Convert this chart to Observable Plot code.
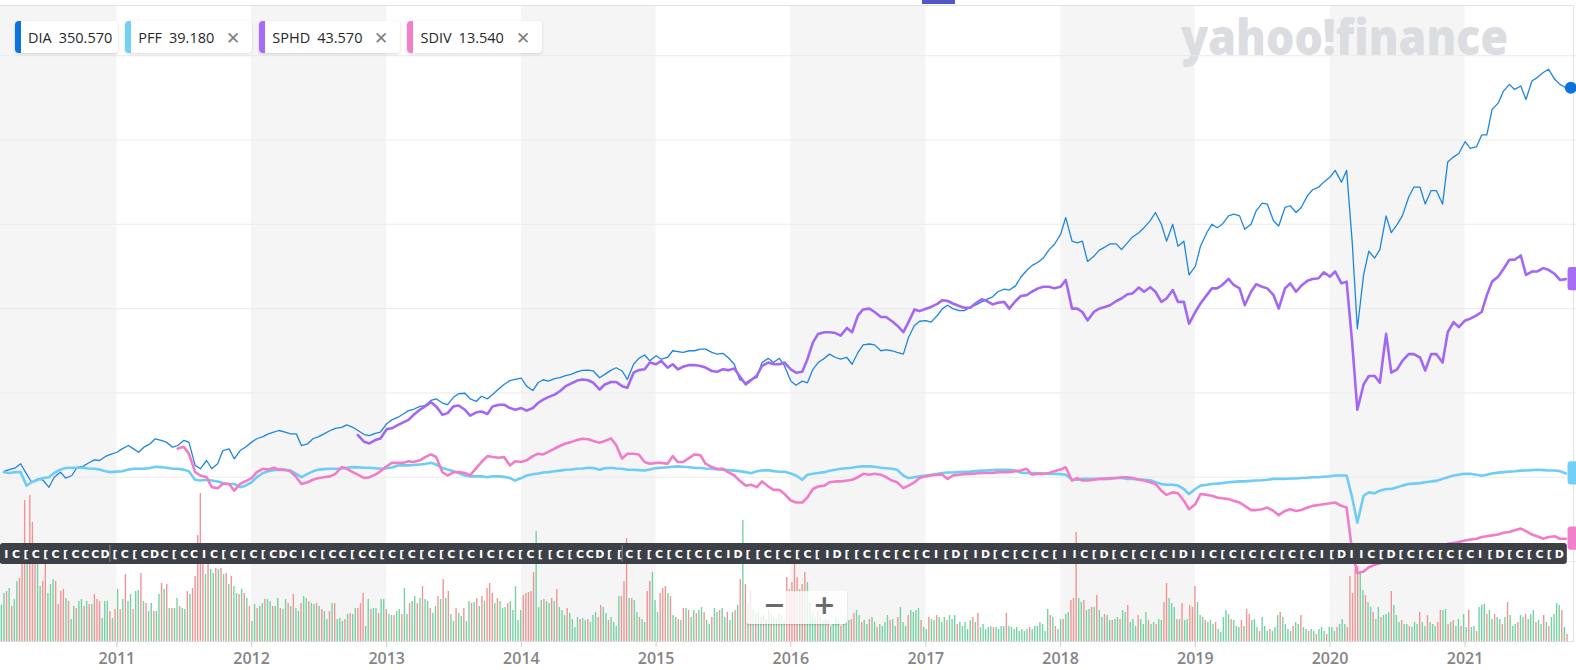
<!DOCTYPE html>
<html><head><meta charset="utf-8">
<script src="https://cdn.jsdelivr.net/npm/d3@7"></script>
<script src="https://cdn.jsdelivr.net/npm/@observablehq/plot@0.6"></script>
<style>
html,body{margin:0;padding:0;background:#fff;}
#chart{position:relative;width:1576px;height:670px;overflow:hidden;font-family:"Open Sans",sans-serif;}
#chart > svg{position:absolute;left:0;top:0;}
#chart > svg.strip{top:543px;}
.legend{position:absolute;left:15px;top:21px;display:flex;gap:7px;}
.chip{position:relative;height:32px;background:#fff;border-radius:4px;box-shadow:0 1px 3px rgba(0,0,0,.16);display:flex;align-items:center;padding:0 6px 0 13px;font-size:14.5px;color:#26282a;white-space:nowrap;box-sizing:border-box;}
.chip::before{content:"";position:absolute;left:0;top:0;bottom:0;width:6px;border-radius:4px 0 0 4px;background:var(--c);}
.chip .sym{margin-right:7px}
.chip .x{margin-left:12px;margin-right:6px;color:#7c7f83;font-size:17px;line-height:1}
.zoombox{position:absolute;left:746px;top:591px;width:101px;height:33px;background:rgba(255,255,255,.78);border-radius:3px;box-shadow:0 1px 2px rgba(0,0,0,.18);}
.zoombox span{position:absolute;top:-2px;font:bold 27px "DejaVu Sans",sans-serif;color:#6a6a6a;}
.topmark{position:absolute;left:922px;top:0;width:33px;height:4px;background:#5457c6;}
</style></head>
<body><div id="chart"></div>
<script>
// ---------- legend data ----------
const tickers = ["DIA", "PFF", "SPHD", "SDIV"];
const lastPrices = [350.570, 39.180, 43.570, 13.540];
const lineColors = ["#1f86de", "#6fcdf5", "#a368f3", "#f17cc8"];
const chipColors = ["#0b74dc", "#72cff7", "#a66cf5", "#f27fca"];
const removable = [false, true, true, true];

// ---------- x axis ----------
const tickYears = [2011, 2012, 2013, 2014, 2015, 2016, 2017, 2018, 2019, 2020, 2021];
const shadedYears = [2010, 2012, 2014, 2016, 2018, 2020];

// ---------- % change series, semi-monthly (1st and 15th) ----------
// DIA and PFF from 2010-03-01, SDIV from 2011-06-15, SPHD from 2012-10-15
const diaPct = [
 3.5,4.5,5.6,8,2,-3,-1,-1.8,-6,0,3,-0.5,1,5.8,6.4,8.3,10.3,9.9,12.3,13.5,
 14.8,16.8,18.8,16.8,14.8,17.8,19.8,22.8,21.9,20.8,17.8,18.8,21.8,20.8,7,5,9.9,5,8,15.8,16.8,10.9,15.8,17.8,
 20.8,22.8,24.1,25.7,26.7,27.7,26.7,25.7,25.7,18.8,19.8,22.8,24.1,25.7,27.7,29,29.6,31,29.6,27.7,25.3,24.7,26,26.7,
 31.7,34,35.6,37.5,39.5,40.3,42,42.5,45.5,46.5,44,43,47.4,49.5,49.8,46.5,45,48,46.5,49,52.4,55,57.3,58,
 58.7,54,51.4,56,57.8,57,58.5,59,60.3,61,62.5,63.3,63.5,63,59,61,63.5,64.9,63,58,67,70.5,72.5,69,
 72,70,71,75,74.5,74,75,75,76,76,74,73,73.5,71,67,58,56,58,59,68,70.5,68,70.5,66,
 57,54.5,57,56,64,68,70.5,73,71,70,71,67,74,78.5,79,78.5,75,75.5,75,74,73,83,90,92.5,
 92.9,92,95.9,100,102,100,98.8,98.8,100.8,102,104,105.5,107,110,111.5,111,113.5,118.6,122.6,125.5,127.5,130,135,138,
 144,154,140,139,140,128,131,134.5,136.5,138.4,138.4,135,139,142.5,145,148,152.2,157,150,140,150,137,140,120,
 125,137,145,150,148,150,155,156,155,147,150,158,162.5,162,152,149,160,161,157,160,167,170.5,172,175,
 178,182,175,182,140,88,120,134,130,135,155,145,150,155,166,172,172,162,170,170,162,187,190,192,
 199,195,196,203,203,218,222,229,233,230,232,224,235,237,240,242,236,233,231
];
const pffPct = [
 3,2.5,3,3,-5,-3,-1.5,-0.5,0,2.5,4.5,5.5,5.6,5.6,5.6,5.2,5,4.5,3.5,3,
 3.3,3.5,4.5,5,5,5,5.5,6.2,6,5.6,5,5,4.5,3.5,-1.5,-2,-1.5,-2,-2.5,-3.5,-4,-4,-5.9,-5,
 -3,0,2.5,3.5,4.2,4.4,4.2,4,2,0,2,3.5,4.5,4.8,5,5,5.2,5.6,6,5.8,5.6,5.6,5.3,5,
 5.3,5.8,7,7,7,7.2,7.5,7.8,8.6,7.5,5.5,4.5,3.5,2.5,1,0.5,0.5,0.5,0,0.5,0.5,0.2,-0.5,-2,
 -0.5,1,1.8,2.2,2.8,3,3.5,3.9,4.4,4.6,5,5.2,5.6,5.4,4.4,5.3,5.6,5.2,5,4.4,4.4,4.2,4,4.6,
 5.4,5.6,5.9,6.2,6.4,6.2,5.9,5.6,5.5,5.2,5,4.6,4.4,4.2,3.9,3.6,3,2.4,3.5,4,4.2,3.6,3.2,3.2,
 2.2,1,-1.5,1.5,2,2.5,3,3.8,4.4,5,5.3,5.6,6.2,6.4,6.4,6.2,5.6,5.3,5,4.4,1,-0.5,0,0.5,
 1,1.5,2,2.5,2.8,2.8,3,3.2,3.3,3.6,3.9,4,4.2,4.4,4.4,4.4,4,2.6,2.5,2.4,2.3,2.2,2,2,
 1.8,1.5,-1.5,-1.5,-1,-1,-1,-1,-1,-1,-0.5,-0.5,-1,-1,-1.2,-1.5,-1.8,-3,-4,-4.5,-4.5,-5,-7,-10,
 -7,-5,-4.5,-4,-3.8,-3.5,-3,-2.8,-2.5,-2.5,-2.2,-2,-1.8,-1.5,-1,-1,-1,-0.8,-0.8,-0.5,-0.3,0,0,0.3,
 0.6,1,1,1,-12,-27,-11,-9,-9.5,-8,-7,-7,-6,-5,-4,-3.8,-3.5,-3,-2.5,-2.2,-1,0,1,1.5,
 2,2,1.5,0.8,1.5,2.2,2.7,3,3.3,3.5,3.9,4,4.2,4.4,4.2,4,4,3.6,2.2
];
const sphdPct = [
 25,21,20,22,23,
 28.5,29,31,32.5,34,37,40,42,44.5,42,37,38,42,42.5,40,36.5,38.5,39,37.5,42,43,43,41,40,
 41,39.5,41,44,46,47.5,49,51,54,55.5,57.3,58,57.5,56,52,55,56.5,56.5,54,53,62,63.5,64,68,
 67,69,65,67,64,65.5,66.5,66.5,66,65,63,62.5,64,63.5,64.5,60,55,57.5,60.3,66,68,67,67,68,
 64,62,62.5,70,80,85,86,86,85.5,84,88.5,86,96,99.5,100,98,95,95,92.5,90,86,92,99.5,98.5,
 99.9,101,102.8,105,104.5,103,101.5,100.5,100.5,103,105.5,104.5,102.5,103.5,104,100,104.5,107.5,108,110,112,113,113,112,
 113,117,100,100,98,93,98,99.9,101,102,104.5,106,108.5,109,112.5,110,112.7,110,104,106,111,104,104,91,
 98,103,108,112,112,114,117.6,114,112,102,110,114.5,113,112,108,100,112,115,110,113.5,116.5,117.6,118,121.5,
 119,122,115,116,80,40,55,60,60,56,85,62,64,69,73,73,71,63.3,73,73,68,86,92,89,
 93,94,96,98,108,116,119,123.5,129,129,131.5,120,122,122,124,123,120.5,117,117.5
];
const sdivPct = [
 17,18,14,3,1,0,-5.9,-6.5,-4,-4,-8,-4,-2.5,
 -0.5,3,5,4.5,5.6,4.5,4.5,3.5,0,-4,-3,-1.5,-0.5,0,0.5,2,6,5,3,1.5,-0.5,0,1.5,3.5,
 6.5,8.5,8.5,8.5,9.5,9,10,11.9,13.5,12,3,1,3,3,2.5,1,5.5,9,12.5,12,11.5,12,7,9.5,
 9,10,12.5,13.9,13.5,15,17,18.5,20,20.8,22,22.8,22.5,21.5,20.5,21.5,23,19,11,13.9,13.9,13.5,9,8,
 8.5,8.5,8,12.5,9,9,11.5,13.5,13,8,6,5,5,3,1,-2,-5,-4.5,-5.9,-2.5,-5.5,-7.5,-7.5,-10,
 -13.8,-15,-15,-12,-7,-5.5,-5,-3,-2.5,-2.5,-2,-1.5,0,2,1.5,2,1.5,0,-2,-3,-6.5,-5,-3,-0.5,
 0.5,1,1.5,1.5,-1,1,1.5,1.8,2,2.2,2.5,2.5,2.5,3,3,3,3.5,4,5,1.5,2,2,2.5,3.5,
 4.5,5.9,-2,-0.5,-2,-2,-1.5,-1,-1,-0.5,-0.5,0,0,-0.5,-1.5,-2,-3,-4,-8,-10.5,-9,-9.5,-14,-19,
 -16,-10,-10.5,-11,-12,-12.5,-13,-14,-15,-17,-19.5,-19.5,-19,-18,-20,-22.5,-20,-19,-20,-19.5,-18,-17,-16.5,-16,
 -15.5,-15,-17,-18,-44,-57,-56,-53.4,-52,-51,-49.5,-48,-47,-46,-45,-44,-43,-42.5,-41.5,-41,-41,-39.5,-39,-38.5,
 -37.5,-37,-36.5,-35.5,-35,-34.5,-34,-33,-32.5,-31.5,-30.5,-32,-34,-35,-36.5,-35.5,-35,-36.5,-36.5
];
const gridPct = [-50, 0, 50, 100, 150, 200, 250];

// ---------- weekly volume from 2010-02-22 (positive = up week, negative = down week) ----------
const volume2010to2013 = [
 36,48,-50,53,-35,42,60,-63,-95,-141,95,-146,-119,-90,77,55,-60,-77,48,57,62,-60,-37,-50,-52,43,-40,22,35,-33,40,42,-35,40,-37,37,-47,-42,-40,23,40,40,-30,23,-32,
 52,-32,42,-67,40,47,-32,50,51,-68,40,-38,30,38,-30,30,47,-58,52,-57,33,-33,33,43,-35,33,32,-50,47,-53,
 -65,-106,-148,-95,67,-85,72,68,-73,72,-73,67,-68,57,-65,55,48,-47,52,-48,43,-35,20,37,-33,35,38,-42,42,40,
 -35,35,43,-33,32,42,-38,35,-47,33,30,-38,45,43,-40,38,37,-38,35,-32,30,22,-30,38,-38,22,23,20,
 -22,27,-28,27,33,-33,-38,-48,15,42,-32,33,33,-28,42,42,-32,
 27,26,-26,30,32,-27,53,27,-38,40,45,-38,43,-55,42,40,-33,28,35,-45,42,-62,43,-50,27,20,-33,28,25,-33,
 20,40,-38,39,-43,35,-45,40,-53,-58,-48,38,-43,40
];
const volume2013to2017 = [
 33,34,-38,40,31,55,21,31,-46,-48,-49,-50,-69,110,34,41,-42,40,38,-43,
 40,-52,34,31,26,-33,28,22,14,24,-22,23,21,-22,19,26,29,-24,-36,34,
 28,-21,24,19,15,45,-45,-60,-103,43,-43,41,29,-24,22,19,-50,-60,69,41,
 29,-48,-53,-55,48,-45,26,24,-22,21,-33,33,-31,24,31,-28,31,34,-29,21,
 17,-24,33,29,-31,33,24,-29,21,29,-31,36,-62,121,-57,38,-50,31,-28,29,
 24,-26,22,31,-28,24,22,-28,26,21,-64,-52,-59,-81,-64,52,-57,-69,59,38,
 28,24,-31,24,21,22,-21,15,17,24,21,-15,17,19,21,-22,-28,31,26,-19,
 21,17,-22,24,19,-14,17,15,19,26,-21,22,15,-24,34,19,15,-26,31,29,
 31,33,-21,14,12,-24,22,21,-26,24,19,24,-21,26,22,26,-17,19,15,19,
 12,21,-24,19,-28,14,17,12,14,15,-14,14,12,15,15,-28,15,14,12,14,
 10,12,10,12,-14,12,15,15,19
];
const volume2018to2021 = [
 17,10,32,-26,24,-15,12,22,-22,27,29,-41,-43,-109,43,39,-41,31,32,-34,
 34,-46,31,24,-27,26,21,-21,22,24,-22,31,29,-36,19,22,15,-26,22,17,
 29,-21,17,19,-17,22,21,-39,-58,43,38,34,-22,22,-38,21,22,-36,-34,-55,
 39,26,24,-21,19,21,17,-19,12,9,24,31,27,-22,21,15,14,-21,15,-32,
 -27,21,22,14,-10,24,15,10,-12,10,14,26,-29,24,17,12,10,-15,19,17,
 -26,14,12,-10,12,10,-7,12,14,10,-7,14,14,10,-14,17,22,17,
 -14,-65,-48,-72,-75,68,51,-46,39,34,-29,22,34,-24,26,27,29,-50,36,26,
 19,-21,17,17,-15,14,19,17,-29,19,15,-26,19,17,15,-19,-31,31,32,
 -17,19,-21,15,22,-15,27,14,-31,14,15,-10,34,36,37,-27,31,22,
 -27,24,22,-17,24,-39,26,15,17,-19,26,24,-27,22,27,31,-19,21,17,-26,
 19,-15,24,27,38,36,-31,14,-7
];

// ---------- event marker strip (glyph fragments of overlapping "D" tags) ----------
const stripGlyphs = "IC[C[C[CCCD" +
 "[C[CDC[CCIC[C[C[CDCIC[CC[CC[C[C[C[C[CIC[C[C[[C[CCD" +
 "[[C[[C[C[C[CID[[C[C[C[ID[[C[C[C[CI[D[ID[C[C[C[IIC[D[C[C[CIDIIC[C[C[C[C[CI[DIIC[D[C[C[C[CI[D[C[C[D";
const stripFrom = "2010-03-07", stripTo = "2021-09-13";
const stripSpan = {start: "2010-02-19", end: "2021-10-05"};
const stripBreaks = ["2010-12-13", "2014-10-01"];

// ---------- build tables ----------
const utc = s => new Date(s + "T00:00:00Z");
function semiMonthly(y, m, half, n) {
  const out = [];
  for (let i = 0; i < n; i++) {
    out.push(new Date(Date.UTC(y, m, half ? 15 : 1)));
    if (half) { half = 0; m++; if (m > 11) { m = 0; y++; } } else half = 1;
  }
  return out;
}
function series(name, vals, y, m, half) {
  const d = semiMonthly(y, m, half, vals.length);
  return vals.map((v, i) => ({name, date: d[i], v}));
}
const dia = series("DIA", diaPct, 2010, 2, 0);
const pff = series("PFF", pffPct, 2010, 2, 0);
const sdiv = series("SDIV", sdivPct, 2011, 5, 1);
const sphd = series("SPHD", sphdPct, 2012, 9, 1);

const volStart = Date.UTC(2010, 1, 22);
const volAll = [...volume2010to2013, ...volume2013to2017, ...volume2018to2021];
const vol = volAll.map((v, i) => ({date: new Date(volStart + i * 7 * 864e5), v: Math.abs(v), up: v > 0}));

const g0 = utc(stripFrom).getTime(), g1 = utc(stripTo).getTime();
const glyphs = [...stripGlyphs].map((g, i, a) => ({g, date: new Date(g0 + (g1 - g0) * i / (a.length - 1))}));

const yearDate = y => new Date(Date.UTC(y, 0, 1));
const xScale = {type: "utc", domain: [yearDate(2010), yearDate(2022)], range: [-18.3, 1599.3]};

const W = 1576, H = 670;
const chart = document.getElementById("chart");

// ---------- base: bands, volume, axis ----------
const base = Plot.plot({
  width: W, height: H, marginTop: 5, marginBottom: 29, marginLeft: 0, marginRight: 3,
  x: {...xScale},
  y: {domain: [0, 100], range: [641, 541], axis: null},
  style: {fontFamily: "'Open Sans', sans-serif", background: "transparent", overflow: "visible"},
  marks: [
    Plot.rect(shadedYears, {x1: d => yearDate(d), x2: d => yearDate(d + 1), fill: "#f5f5f5"}),
    Plot.ruleX(vol, {x: "date", y1: 0, y2: "v", stroke: d => d.up ? "#74d3a2" : "#f29494", strokeWidth: 1.4}),
    Plot.ruleY([0], {stroke: "#dedede"}),
    Plot.axisX({ticks: tickYears.map(yearDate), tickFormat: d3.utcFormat("%Y"), tickSize: 6, tickPadding: 5,
      stroke: "#cfcfcf", fill: "#858585", fontSize: 16, fontWeight: 600}),
    Plot.frame({anchor: "top", stroke: "#e2e2e2"}),
    Plot.frame({anchor: "right", stroke: "#e2e2e2"})
  ]
});
chart.appendChild(base);

// ---------- watermark ----------
const ns = "http://www.w3.org/2000/svg";
const wm = document.createElementNS(ns, "svg");
wm.setAttribute("width", W); wm.setAttribute("height", 80);
wm.innerHTML = `<text x="1181" y="55" textLength="327" lengthAdjust="spacingAndGlyphs" font-family="'Open Sans', sans-serif" font-weight="800" font-size="50" fill="#dcdde1">yahoo!finance</text>`;
chart.appendChild(wm);

// ---------- lines ----------
const lastOf = s => s[s.length - 1];
const tagStart = utc("2021-10-07"), tagEnd = utc("2021-12-31");
const tags = [
  {name: "PFF", v: lastOf(pff).v, c: chipColors[1]},
  {name: "SPHD", v: lastOf(sphd).v, c: chipColors[2]},
  {name: "SDIV", v: lastOf(sdiv).v, c: chipColors[3]}
];
const lines = Plot.plot({
  width: W, height: H, margin: 0,
  x: {...xScale, axis: null},
  y: {domain: [-50, 250], range: [561, 55.2], axis: null},
  style: {background: "transparent", overflow: "visible"},
  marks: [
    Plot.ruleY(gridPct, {stroke: "#ebebeb"}),
    Plot.line(dia, {x: "date", y: "v", stroke: lineColors[0], strokeWidth: 1.3}),
    Plot.line(pff, {x: "date", y: "v", stroke: lineColors[1], strokeWidth: 2.6}),
    Plot.line(sphd, {x: "date", y: "v", stroke: lineColors[2], strokeWidth: 2.6}),
    Plot.line(sdiv, {x: "date", y: "v", stroke: lineColors[3], strokeWidth: 2.6}),
    Plot.rect(tags, {x1: () => tagStart, x2: () => tagEnd, y1: d => d.v - 6.9, y2: d => d.v + 6.9, fill: "c", rx: 3}),
    Plot.dot([lastOf(dia)], {x: "date", y: "v", r: 6, fill: chipColors[0], dx: 5})
  ]
});
chart.appendChild(lines);

// ---------- event strip ----------
const strip = Plot.plot({
  width: W, height: 21, margin: 0,
  x: {...xScale, axis: null},
  style: {background: "transparent", overflow: "visible", fontFamily: "'DejaVu Sans', sans-serif"},
  marks: [
    Plot.rect([stripSpan], {x1: d => utc(d.start), x2: d => utc(d.end), fill: "#3d4147", rx: 3}),
    Plot.ruleX(stripBreaks.map(utc), {stroke: "#80848a", insetTop: 2, insetBottom: 2}),
    Plot.text(glyphs, {x: "date", text: "g", fill: "#ffffff", fontSize: 11, fontWeight: "bold", frameAnchor: "middle"})
  ]
});
strip.classList.add("strip");
strip.style.top = "543px";
chart.appendChild(strip);

// ---------- legend ----------
const legend = document.createElement("div");
legend.className = "legend";
tickers.forEach((t, i) => {
  const chip = document.createElement("div");
  chip.className = "chip";
  chip.style.setProperty("--c", chipColors[i]);
  chip.innerHTML = `<span class="sym">${t}</span><span>${lastPrices[i].toFixed(3)}</span>` + (removable[i] ? `<span class="x">✕</span>` : "");
  legend.appendChild(chip);
});
chart.appendChild(legend);

// ---------- zoom buttons & top mark ----------
const zb = document.createElement("div");
zb.className = "zoombox";
zb.innerHTML = `<span style="left:17px">−</span><span style="left:67px">+</span>`;
chart.appendChild(zb);
const tm = document.createElement("div");
tm.className = "topmark";
chart.appendChild(tm);
</script>
</body></html>
